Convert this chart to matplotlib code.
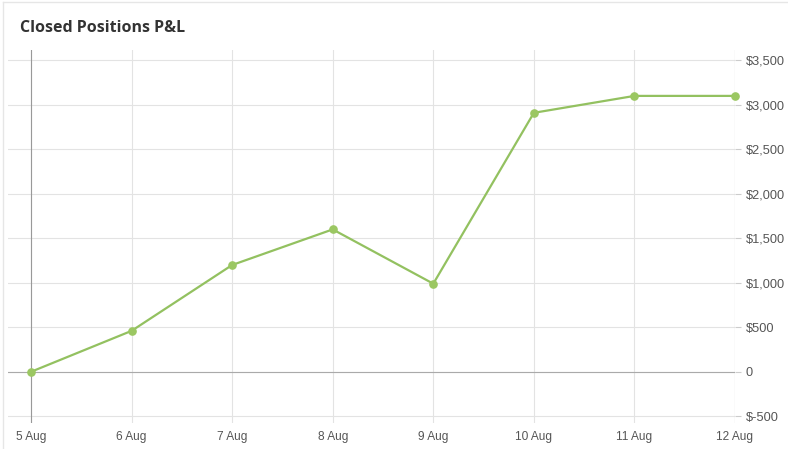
import matplotlib
matplotlib.use("Agg")
import matplotlib.pyplot as plt
from matplotlib.lines import Line2D

dates = ["5 Aug", "6 Aug", "7 Aug", "8 Aug", "9 Aug", "10 Aug", "11 Aug", "12 Aug"]
pnl = [0, 460, 1200, 1600, 990, 2910, 3100, 3100]
y_ticks = [-500, 0, 500, 1000, 1500, 2000, 2500, 3000, 3500]
y_labels = ["$-500", "0", "$500", "$1,000", "$1,500", "$2,000", "$2,500", "$3,000", "$3,500"]
title = "Closed Positions P&L"

W, H = 788, 449
fig = plt.figure(figsize=(W / 100, H / 100), dpi=100)
fig.patch.set_facecolor("white")

# card border (left and top)
fig.add_artist(Line2D([3 / W, 3 / W], [0, 1 - 2 / H], color="#e6e6e6", lw=1))
fig.add_artist(Line2D([3 / W, 1], [1 - 2 / H, 1 - 2 / H], color="#e6e6e6", lw=1))

left, right, top, bottom = 8, 735, 50, 423
ax = fig.add_axes([left / W, 1 - bottom / H, (right - left) / W, (bottom - top) / H])

x = list(range(len(dates)))
px_per_day = (735 - 31) / 7
ax.set_xlim(-(31 - left) / px_per_day, len(dates) - 1)
px_per_unit = 44.5 / 500
zero_px = 371.8
ax.set_ylim(-(bottom - zero_px) / px_per_unit, (zero_px - top) / px_per_unit)

for s in ax.spines.values():
    s.set_visible(False)

ax.set_xticks(x)
ax.set_xticklabels(dates)
ax.set_yticks(y_ticks)
ax.set_yticklabels(y_labels)
ax.yaxis.tick_right()
ax.tick_params(axis="x", length=0, pad=6, labelsize=8.6, labelcolor="#555555")
ax.tick_params(axis="y", length=4.5, width=0.8, color="#cccccc", pad=3, labelsize=9.2, labelcolor="#555555")
for lab in ax.get_xticklabels() + ax.get_yticklabels():
    lab.set_fontfamily("Liberation Sans")

ax.grid(True, color="#e3e3e3", lw=0.8)
ax.set_axisbelow(True)

# emphasised lines
ax.axhline(0, color="#aaaaaa", lw=0.8, zorder=1)
ax.axvline(x[0], color="#999999", lw=0.8, zorder=1)
ax.axvline(x[-1], color="#cccccc", lw=0.8, zorder=1)

ax.plot(x, pnl, color="#93c160", lw=1.6, marker="o", markersize=5.2,
        markerfacecolor="#9bc762", markeredgecolor="#9bc762", clip_on=False, zorder=3)

fig.text(20 / W, 1 - 28.5 / H, title, fontsize=11.5, fontweight="bold", color="#333333",
         fontfamily="Open Sans", va="center", ha="left")

fig.savefig("out.png", dpi=100)
